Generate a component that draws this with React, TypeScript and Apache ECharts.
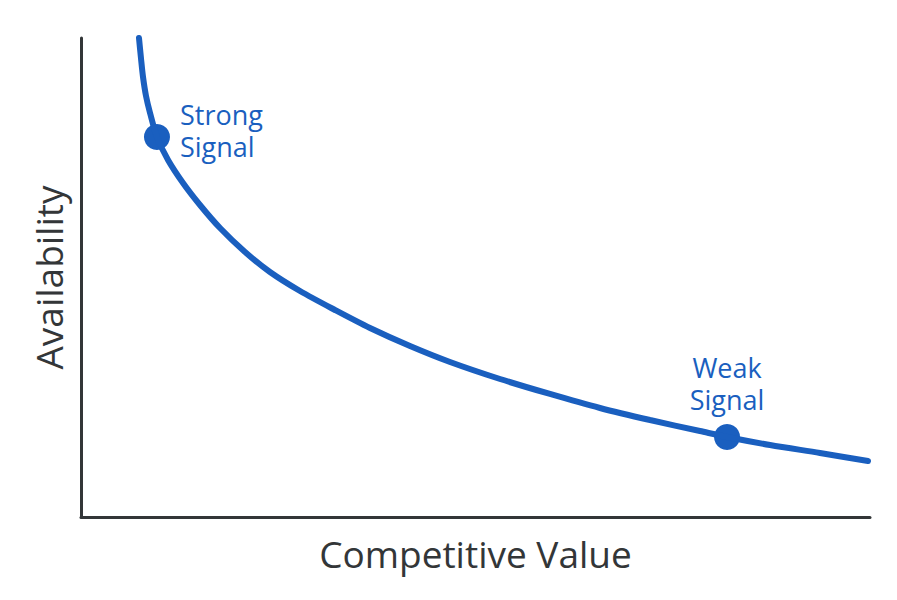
import React, { useEffect, useRef } from "react";
import * as echarts from "echarts";

// Curve (competitive value vs availability), 0–100 scales
const curveX = [7.35, 7.6, 7.86, 8.24, 8.75, 9.63, 11.03, 12.93, 15.08, 17.62, 20.79, 23.95, 27.76, 32.19, 36.63, 41.7, 46.77, 53.11, 59.44, 65.78, 72.12, 78.45, 81.88, 87.33, 93.66, 99.75];
const curveY = [100, 95.82, 91.86, 87.89, 84.34, 79.33, 74.53, 69.73, 65.14, 60.33, 55.32, 51.15, 47.18, 43.22, 39.46, 35.7, 32.36, 28.81, 25.68, 22.76, 20.25, 17.95, 16.7, 15.03, 13.36, 11.69];

// Highlighted signal points
const signalNames = ["Strong\nSignal", "Weak\nSignal"];
const signalX = [9.63, 81.88];
const signalY = [79.33, 16.7];

const axisTitleX = "Competitive Value";
const axisTitleY = "Availability";

const BLUE = "#1a5fbf";
const INK = "#333638";
const FONT = "'Open Sans', Lato, sans-serif";

export default function App() {
  const ref = useRef<HTMLDivElement>(null);
  useEffect(() => {
    if (!ref.current) return;
    const chart = echarts.init(ref.current, undefined, { renderer: "svg" });
    const line = curveX.map((x, i) => [x, curveY[i]]);
    chart.setOption({
      animation: false,
      backgroundColor: "#ffffff",
      grid: { left: 81, right: 27, top: 38, bottom: 83 },
      xAxis: {
        type: "value",
        min: 0,
        max: 100,
        name: axisTitleX,
        nameLocation: "middle",
        nameGap: 18,
        nameTextStyle: { fontSize: 37, color: INK, fontFamily: FONT },
        axisLine: { show: true, lineStyle: { color: INK, width: 3, cap: "round" } },
        axisTick: { show: false },
        axisLabel: { show: false },
        splitLine: { show: false },
      },
      yAxis: {
        type: "value",
        min: 0,
        max: 100,
        name: axisTitleY,
        nameLocation: "middle",
        nameGap: 14,
        nameTextStyle: { fontSize: 37, color: INK, fontFamily: FONT },
        axisLine: { show: true, lineStyle: { color: INK, width: 3, cap: "round" } },
        axisTick: { show: false },
        axisLabel: { show: false },
        splitLine: { show: false },
      },
      series: [
        {
          type: "line",
          data: line,
          smooth: 0.3,
          showSymbol: false,
          lineStyle: { color: BLUE, width: 6, cap: "round" },
          silent: true,
        },
        {
          type: "scatter",
          symbolSize: 26,
          itemStyle: { color: BLUE, opacity: 1 },
          data: signalX.map((x, i) => ({
            value: [x, signalY[i]],
            name: signalNames[i],
            label: i === 0
              ? { show: true, position: "right", distance: 10, align: "left", offset: [0, -7] }
              : { show: true, position: "top", distance: 9, align: "center" },
          })),
          label: {
            formatter: (p: any) => p.name,
            color: BLUE,
            fontSize: 27,
            lineHeight: 32,
            fontFamily: FONT,
          },
        },
      ],
    });
    return () => chart.dispose();
  }, []);
  return <div ref={ref} style={{ width: 897, height: 600, margin: -8 }} />;
}
